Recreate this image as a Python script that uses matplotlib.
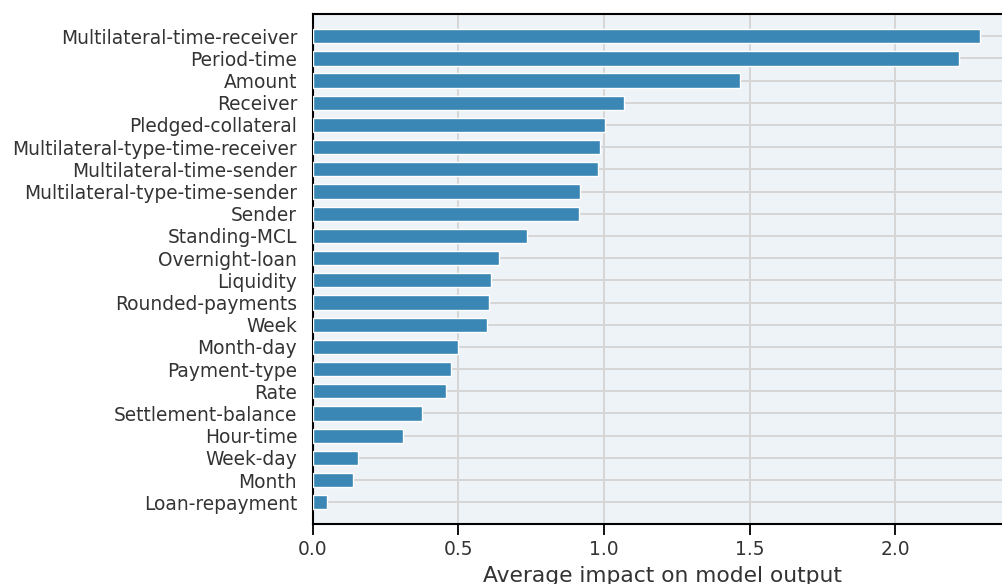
import numpy as np
import matplotlib.pyplot as plt

features = [
    "Multilateral-time-receiver", "Period-time", "Amount", "Receiver",
    "Pledged-collateral", "Multilateral-type-time-receiver",
    "Multilateral-time-sender", "Multilateral-type-time-sender", "Sender",
    "Standing-MCL", "Overnight-loan", "Liquidity", "Rounded-payments", "Week",
    "Month-day", "Payment-type", "Rate", "Settlement-balance", "Hour-time",
    "Week-day", "Month", "Loan-repayment",
]
impact = [
    2.290, 2.217, 1.467, 1.068, 1.004, 0.986, 0.980, 0.918, 0.913,
    0.736, 0.639, 0.611, 0.604, 0.598, 0.500, 0.476, 0.458, 0.374,
    0.310, 0.157, 0.139, 0.049,
]

# smallest at the bottom
names = features[::-1]
vals = impact[::-1]
ypos = np.arange(len(names))

fig = plt.figure(figsize=(10.02, 5.84), dpi=100)
ax = fig.add_axes([0.3119, 0.102, 0.698, 0.874])
ax.set_facecolor("#eef3f8")

ax.barh(ypos, vals, height=0.64, color="#3a86b4", edgecolor="white",
        linewidth=1.0, zorder=3)

ax.set_yticks(ypos)
ax.set_yticklabels(names, fontsize=13.4, color="#333333")
ax.set_ylim(-1, len(names))
ax.set_xlim(0, 2.4)
ax.set_xticks([0.0, 0.5, 1.0, 1.5, 2.0])
ax.set_xticklabels(["0.0", "0.5", "1.0", "1.5", "2.0"])
ax.tick_params(axis="x", labelsize=13.4, labelcolor="#333333", length=8,
               width=1.3, color="black")
ax.tick_params(axis="y", length=0, pad=11)
ax.set_xlabel("Average impact on model output", fontsize=15.7, color="#333333",
              labelpad=5)

ax.grid(True, color="#d6d6d6", linewidth=1.4, zorder=0)
ax.set_axisbelow(True)
for side in ["left", "top", "bottom"]:
    ax.spines[side].set_color("black")
    ax.spines[side].set_linewidth(1.5)
ax.spines["right"].set_visible(False)

fig.savefig("out.png", dpi=100)
